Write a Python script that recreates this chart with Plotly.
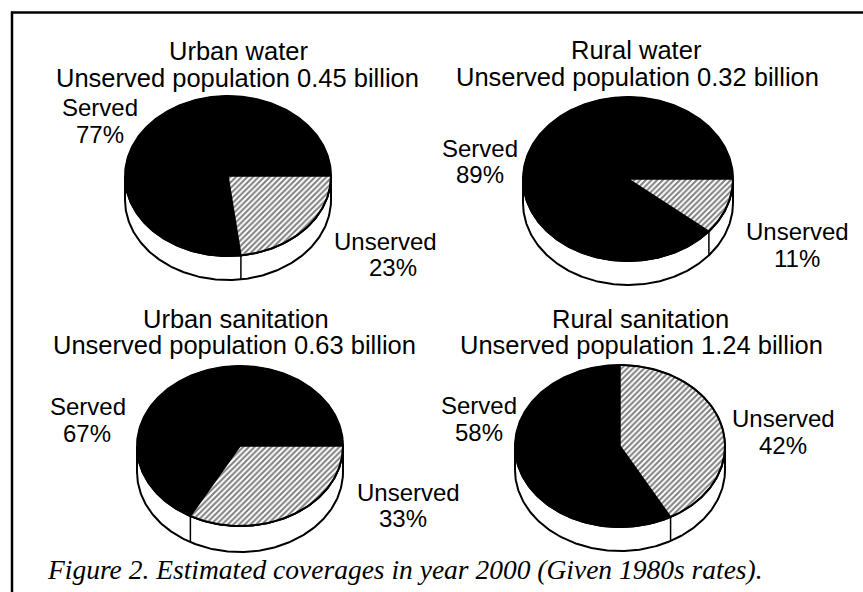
import numpy as np
import plotly.graph_objects as go

# ---------------- data ----------------
chart_titles = ["Urban water", "Rural water", "Urban sanitation", "Rural sanitation"]
unserved_population_billion = [0.45, 0.32, 0.63, 1.24]
served_pct = [77, 89, 67, 58]
unserved_pct = [23, 11, 33, 42]
slice_labels = ["Served", "Unserved"]
caption = "Figure 2. Estimated coverages in year 2000 (Given 1980s rates)."

# ---------------- layout / style ----------------
W, H = 863, 592
# pie geometry: centre x, centre y, radius x, radius y, depth, start angle (deg, clockwise from 3 o'clock)
geom = [
    dict(cx=228, cy=176, rx=103, ry=80, d=24, start=0),
    dict(cx=628, cy=179, rx=105, ry=82, d=24, start=0),
    dict(cx=240, cy=446, rx=103, ry=80, d=26, start=0),
    dict(cx=620, cy=446, rx=105, ry=81, d=24, start=-90),
]
title_pos = [((238, 51), (237, 78)), ((636, 50), (637, 77)),
             ((236, 319), (234, 345)), ((640, 319), (641, 345))]
served_pos = [((100, 107), (100, 134)), ((480, 148), (480, 174)),
              ((88, 406), (87, 433)), ((479, 405), (479, 432))]
unserved_pos = [((385, 241), (393, 267)), ((797, 231), (797, 258)),
                ((408, 492), (403, 518)), ((783, 418), (783, 445))]
SANS = "Liberation Sans, Arial, sans-serif"
SERIF = "Liberation Serif, Times New Roman, serif"

fig = go.Figure()


def ell(g, a_deg, dy=0.0):
    a = np.radians(a_deg)
    return g["cx"] + g["rx"] * np.cos(a), g["cy"] + g["ry"] * np.sin(a) + dy


def add_poly(xs, ys, fill=None, pattern=None, lw=1.5):
    kw = {}
    if pattern is not None:
        kw["fillpattern"] = pattern
    fig.add_trace(go.Scatter(
        x=list(xs), y=list(ys), mode="lines",
        fill="toself" if (fill is not None or pattern is not None) else None,
        fillcolor=fill if fill is not None else "white",
        line=dict(color="black", width=lw),
        hoverinfo="skip", showlegend=False, **kw))


hatch = dict(shape="/", fgcolor="black", bgcolor="white", size=4, solidity=0.5)

for i, g in enumerate(geom):
    # side (extrusion) of the cylinder: front half
    a_front = np.linspace(0, 180, 200)
    tx, ty = ell(g, a_front)
    bx, by = ell(g, a_front[::-1], g["d"])
    add_poly(np.r_[tx, bx, tx[0]], np.r_[ty, by, ty[0]], fill="white", lw=2)

    # slices on the top face, driven by the percentages
    a0 = g["start"]
    a1 = a0 + unserved_pct[i] / 100 * 360
    a2 = a1 + served_pct[i] / 100 * 360
    # served (solid black)
    aa = np.linspace(a1, a2, 300)
    sx, sy = ell(g, aa)
    add_poly(np.r_[g["cx"], sx, g["cx"]], np.r_[g["cy"], sy, g["cy"]], fill="black", lw=1)
    # unserved (hatched)
    aa = np.linspace(a0, a1, 200)
    ux, uy = ell(g, aa)
    add_poly(np.r_[g["cx"], ux, g["cx"]], np.r_[g["cy"], uy, g["cy"]], pattern=hatch, lw=1.5)

    # top outline
    aa = np.linspace(0, 360, 400)
    ox, oy = ell(g, aa)
    add_poly(ox, oy, lw=2)

    # vertical edges on the visible side where slice boundaries meet the rim
    for b in (a0, a1):
        bm = b % 360
        if 0.5 < bm < 179.5:
            x0, y0 = ell(g, bm)
            fig.add_trace(go.Scatter(x=[x0, x0], y=[y0, y0 + g["d"]], mode="lines",
                                     line=dict(color="black", width=1.5),
                                     hoverinfo="skip", showlegend=False))

annots = []
for i in range(4):
    l1 = chart_titles[i]
    l2 = f"Unserved population {unserved_population_billion[i]:.2f} billion"
    for txt, (x, y) in zip((l1, l2), title_pos[i]):
        annots.append(dict(x=x, y=y, text=txt, showarrow=False, xanchor="center", yanchor="middle",
                           font=dict(family=SANS, size=25.5, color="black")))
    for txt, (x, y) in zip((slice_labels[0], f"{served_pct[i]}%"), served_pos[i]):
        annots.append(dict(x=x, y=y, text=txt, showarrow=False, xanchor="center", yanchor="middle",
                           font=dict(family=SANS, size=24, color="black")))
    for txt, (x, y) in zip((slice_labels[1], f"{unserved_pct[i]}%"), unserved_pos[i]):
        annots.append(dict(x=x, y=y, text=txt, showarrow=False, xanchor="center", yanchor="middle",
                           font=dict(family=SANS, size=24, color="black")))

annots.append(dict(x=405, y=569, text=f"<i>{caption}</i>", showarrow=False,
                   xanchor="center", yanchor="middle",
                   font=dict(family=SERIF, size=27.5, color="black")))

shapes = [
    dict(type="line", xref="x", yref="y", x0=11, x1=W, y0=12.5, y1=12.5,
         line=dict(color="black", width=2.5)),
    dict(type="line", xref="x", yref="y", x0=12, x1=12, y0=11.5, y1=H,
         line=dict(color="black", width=2.5)),
]

fig.update_layout(
    width=W, height=H, margin=dict(l=0, r=0, t=0, b=0),
    paper_bgcolor="white", plot_bgcolor="white",
    xaxis=dict(range=[0, W], visible=False, fixedrange=True),
    yaxis=dict(range=[H, 0], visible=False, fixedrange=True),
    annotations=annots, shapes=shapes, showlegend=False,
)

fig.write_html("out.html")
